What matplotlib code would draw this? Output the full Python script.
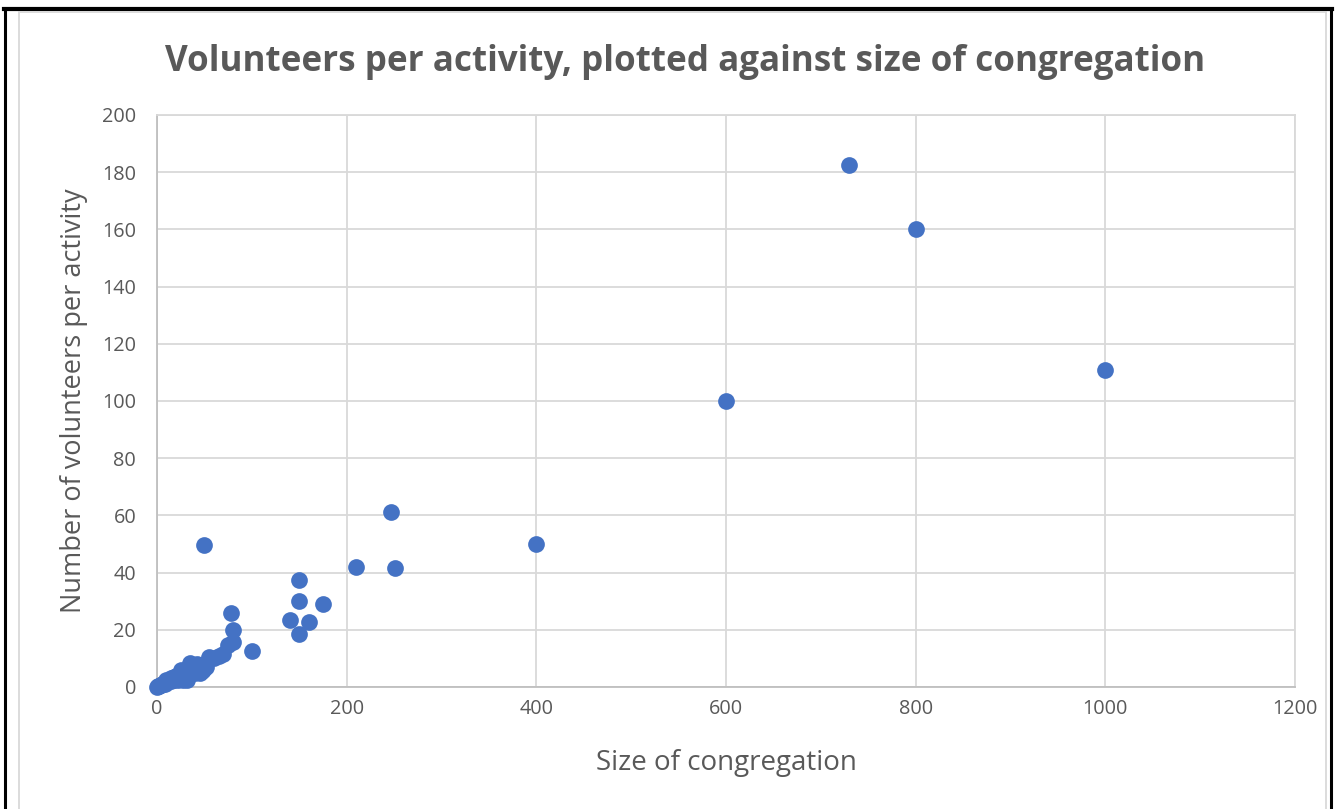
import matplotlib
matplotlib.use("Agg")
import matplotlib.pyplot as plt
from matplotlib.lines import Line2D

size_of_congregation = [
    0, 1, 2, 4, 6, 8, 10, 12, 14, 15, 18, 20, 20, 22, 25, 25, 25, 28, 30, 30,
    30, 32, 35, 35, 35, 38, 40, 40, 42, 45, 45, 48, 50, 50, 52, 55, 60, 30, 15,
    10, 8, 5, 18, 22, 27, 33, 43, 47, 65,
    70, 75, 78, 80, 80, 100, 50,
    140, 150, 150, 150, 160, 175, 210, 247, 251, 400, 600, 730, 800, 1000,
]
volunteers_per_activity = [
    0, 0.2, 0.3, 0.6, 1.0, 1.5, 1.5, 2.0, 2.5, 3.0, 2.5, 3.0, 4.0, 3.5, 3.0, 5.0, 6.0, 4.0, 3.0, 5.0,
    6.0, 2.5, 5.0, 7.0, 8.5, 6.0, 5.0, 7.0, 8.0, 5.0, 7.0, 6.0, 6.5, 8.0, 7.0, 10.5, 10.0, 4.0, 2.0,
    2.5, 1.0, 1.0, 3.5, 2.5, 2.4, 4.5, 6.5, 5.5, 11.0,
    11.5, 14.7, 25.9, 20.0, 15.8, 12.6, 49.8,
    23.3, 37.4, 30.0, 18.6, 22.8, 29.0, 42.0, 61.3, 41.6, 50.0, 100.0, 182.5, 160.0, 111.0,
]

x_ticks = [0, 200, 400, 600, 800, 1000, 1200]
y_ticks = [0, 20, 40, 60, 80, 100, 120, 140, 160, 180, 200]

text_color = "#595959"
grid_color = "#d9d9d9"

fig = plt.figure(figsize=(13.38, 8.09), dpi=100)
ax = fig.add_axes([157/1338, 1-687/809, (1295-157)/1338, (687-115)/809])

ax.scatter(size_of_congregation, volunteers_per_activity, s=145, color="#4472c4",
           zorder=3, linewidths=0, clip_on=False)

ax.set_xlim(0, 1200)
ax.set_ylim(0, 200)
ax.set_xticks(x_ticks)
ax.set_yticks(y_ticks)
ax.grid(True, color=grid_color, linewidth=1.3, zorder=0)
ax.set_axisbelow(True)
for s in ax.spines.values():
    s.set_color(grid_color)
    s.set_linewidth(1.3)
ax.spines["left"].set_color("#bfbfbf")
ax.spines["bottom"].set_color("#bfbfbf")
ax.tick_params(axis="both", length=0, labelsize=14.3, labelcolor=text_color,
               labelfontfamily="Open Sans")
ax.tick_params(axis="y", pad=15)
ax.tick_params(axis="x", pad=9)

ax.set_xlabel("Size of congregation", fontsize=20, color=text_color,
              fontfamily="Open Sans", labelpad=21)
ax.set_ylabel("Number of volunteers per activity", fontsize=19.5, color=text_color,
              fontfamily="Open Sans", labelpad=10)

fig.text(0.512, 1-62/809, "Volunteers per activity, plotted against size of congregation",
         ha="center", va="center", fontsize=25.2, fontweight="bold", color=text_color,
         fontfamily="Open Sans")

# borders
fig.add_artist(Line2D([5/1338, 5/1338], [0, 1-9/809], color="black", linewidth=2.2,
                      transform=fig.transFigure))
fig.add_artist(Line2D([1331/1338, 1331/1338], [0, 1-9/809], color="black", linewidth=2.2,
                      transform=fig.transFigure))
fig.add_artist(Line2D([4/1338, 1332/1338], [1-9/809, 1-9/809], color="black", linewidth=3,
                      transform=fig.transFigure))
fig.add_artist(Line2D([19/1338, 19/1338], [0, 1-12/809], color=grid_color, linewidth=1.3,
                      transform=fig.transFigure))
fig.add_artist(Line2D([1326/1338, 1326/1338], [0, 1-12/809], color=grid_color, linewidth=1.3,
                      transform=fig.transFigure))
fig.add_artist(Line2D([19/1338, 1326/1338], [1-12/809, 1-12/809], color=grid_color, linewidth=1.3,
                      transform=fig.transFigure))

fig.savefig("out.png", dpi=100)
